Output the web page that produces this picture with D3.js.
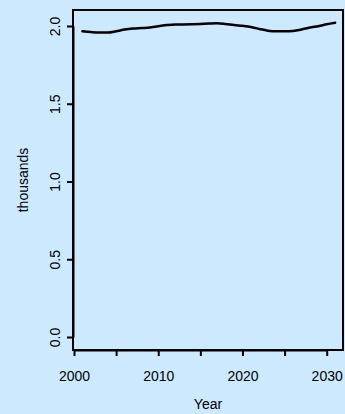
<!DOCTYPE html>
<html>
<head>
<meta charset="utf-8">
<script src="https://cdn.jsdelivr.net/npm/d3@7"></script>
<style>
  html, body { margin: 0; padding: 0; background: #cce9fd; }
  svg { display: block; }
  text { font-family: "Liberation Sans", Arial, Helvetica, sans-serif; fill: #000; }
</style>
</head>
<body>
<svg id="chart" width="345" height="414"></svg>
<script>
// Annual series, in thousands
const years = [2001, 2002, 2003, 2004, 2005, 2006, 2007, 2008, 2009, 2010,
               2011, 2012, 2013, 2014, 2015, 2016, 2017, 2018, 2019, 2020,
               2021, 2022, 2023, 2024, 2025, 2026, 2027, 2028, 2029, 2030, 2031];
const values = [1.966, 1.961, 1.958, 1.958, 1.966, 1.977, 1.984, 1.987, 1.990, 1.999,
                2.006, 2.010, 2.010, 2.011, 2.013, 2.016, 2.018, 2.013, 2.006, 2.001,
                1.994, 1.981, 1.970, 1.966, 1.966, 1.968, 1.977, 1.990, 1.999, 2.011, 2.021];
const xTicks = [2000, 2005, 2010, 2015, 2020, 2025, 2030];
const xTickLabels = ["2000", "", "2010", "", "2020", "", "2030"];
const yTicks = [0, 0.5, 1.0, 1.5, 2.0];
const yTickLabels = ["0.0", "0.5", "1.0", "1.5", "2.0"];

const svg = d3.select("#chart");
const box = { left: 73, right: 343, top: 10, bottom: 350 };

const x = d3.scaleLinear().domain([2000, 2030]).range([74, 326.7]);
const y = d3.scaleLinear().domain([0, 2.0]).range([337, 26]);

// Plot frame
svg.append("rect")
  .attr("x", box.left).attr("y", box.top)
  .attr("width", box.right - box.left).attr("height", box.bottom - box.top)
  .attr("fill", "none").attr("stroke", "#000").attr("stroke-width", 2);

// Series line
const line = d3.line()
  .x((d, i) => x(years[i]))
  .y(d => y(d))
  .curve(d3.curveMonotoneX);
svg.append("path")
  .datum(values)
  .attr("d", line)
  .attr("fill", "none")
  .attr("stroke", "#000")
  .attr("stroke-width", 2.5)
  .attr("stroke-linejoin", "round")
  .attr("stroke-linecap", "round");

// Bottom axis
const xAxis = d3.axisBottom(x)
  .tickValues(xTicks)
  .tickFormat((d, i) => xTickLabels[i])
  .tickSizeInner(6).tickSizeOuter(0).tickPadding(15);
const gx = svg.append("g").attr("transform", `translate(0,${box.bottom})`).call(xAxis);
gx.select(".domain").attr("stroke-width", 2);
gx.selectAll(".tick line").attr("stroke-width", 2);
gx.selectAll(".tick text").attr("font-size", 14).attr("fill", "#000");

// Left axis
const yAxis = d3.axisLeft(y)
  .tickValues(yTicks)
  .tickFormat((d, i) => yTickLabels[i])
  .tickSizeInner(6).tickSizeOuter(0);
const gy = svg.append("g").attr("transform", `translate(${box.left},0)`).call(yAxis);
gy.select(".domain").attr("stroke-width", 2);
gy.selectAll(".tick line").attr("stroke-width", 2);
gy.selectAll(".tick text")
  .attr("font-size", 14).attr("fill", "#000")
  .attr("text-anchor", "middle").attr("dy", 0)
  .attr("x", 0).attr("y", 0)
  .attr("transform", "translate(-13.5,0) rotate(-90)");

// Axis titles
svg.append("text")
  .attr("x", (box.left + box.right) / 2).attr("y", 409)
  .attr("text-anchor", "middle").attr("font-size", 14)
  .text("Year");
svg.append("text")
  .attr("transform", `translate(28,${(box.top + box.bottom) / 2}) rotate(-90)`)
  .attr("text-anchor", "middle").attr("font-size", 14)
  .text("thousands");
</script>
</body>
</html>
